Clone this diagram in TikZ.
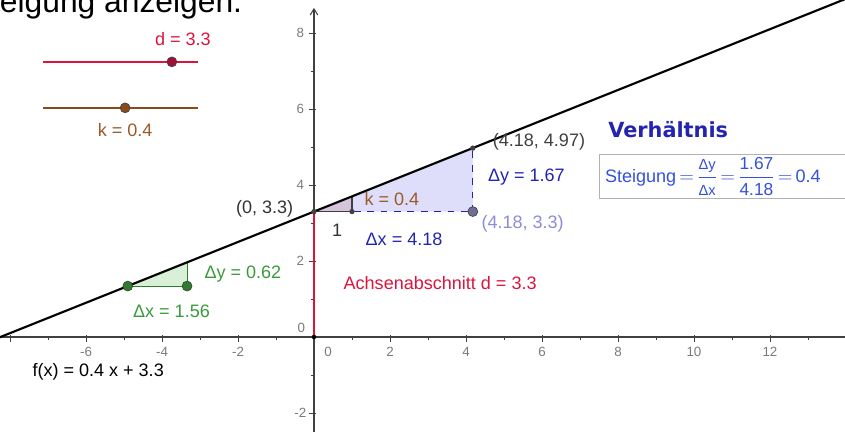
\documentclass[tikz,border=0pt]{standalone}
\usepackage{fontspec}
\setmainfont{Liberation Sans}
\newfontfamily\headfont{DejaVu Sans}
\usepackage{tikz}
\usetikzlibrary{arrows.meta}
\definecolor{GGAxis}{HTML}{404040}
\definecolor{GGTick}{HTML}{7A7A7A}
\definecolor{GGRed}{HTML}{DC143C}
\definecolor{GGRedDark}{HTML}{A0103A}
\definecolor{GGBrown}{HTML}{8B4A1C}
\definecolor{GGBrownText}{HTML}{9A5A2A}
\definecolor{GGGreen}{HTML}{2E7D2E}
\definecolor{GGGreenText}{HTML}{3A9A3A}
\definecolor{GGGreenFill}{HTML}{D8F0D8}
\definecolor{GGBlue}{HTML}{2424B0}
\definecolor{GGBlueBox}{HTML}{3450DC}
\definecolor{GGBlueFill}{HTML}{DEDEFA}
\definecolor{GGLilac}{HTML}{8C8CD8}
\definecolor{GGLilacFill}{HTML}{D6C4DC}
\definecolor{GGPoint}{HTML}{6E6E98}

\begin{document}
\begin{tikzpicture}[x=1cm,y=1cm,
  axisline/.style={draw=GGAxis,line width=0.8pt},
  tickmark/.style={draw=GGAxis,line width=0.6pt},
  ticklbl/.style={font=\fontsize{10}{12}\selectfont,text=GGTick,inner sep=0pt},
  lbl/.style={font=\fontsize{13.5}{16}\selectfont,inner sep=0pt},
  graph/.style={draw=black,line width=1.6pt},
  ggpoint/.style={fill=#1,draw=black!75,line width=0.5pt},
  sidedash/.style={draw=GGBlue,line width=0.9pt,dash pattern=on 5pt off 5pt}
]
  \useasboundingbox (-8.263,-2.5) rectangle (13.974,8.868);
  \clip (-8.263,-2.5) rectangle (13.974,8.868);

  % points of the construction
  \coordinate (O) at (0,0);
  \coordinate (D) at (0,3.3);
  \coordinate (K1) at (1,3.3);
  \coordinate (K2) at (1,3.7);
  \coordinate (B1) at (4.18,3.3);
  \coordinate (B2) at (4.18,4.97);
  \coordinate (G0) at (-4.9,1.34);
  \coordinate (G1) at (-3.34,1.34);
  \coordinate (G2) at (-3.34,1.964);
  \coordinate (Fl) at (-8.6,-0.14);
  \coordinate (Fr) at (14.2,8.98);

  % triangle fills
  \fill[GGBlueFill] (D) -- (B1) -- (B2) -- cycle;
  \fill[GGLilacFill] (D) -- (K1) -- (K2) -- cycle;
  \fill[GGGreenFill] (G0) -- (G1) -- (G2) -- cycle;

  % axes
  \coordinate (xL) at (-8.3,0);
  \coordinate (xR) at (14.0,0);
  \coordinate (yB) at (0,-2.6);
  \coordinate (yT) at (0,8.66);
  \draw[axisline] (xL) -- (xR);
  \draw[axisline,-{Straight Barb[length=1.6mm,width=2mm]}] (yB) -- (yT);
  \foreach \i in {-8,...,13}
    \draw[tickmark] (\i,0) -- (\i,-0.09);
  \foreach \i in {-8,-6,...,12}
    \draw[tickmark] (\i,0.05) -- (\i,-0.12);
  \foreach \j in {-2,...,8}
    \draw[tickmark] (0,\j) -- (-0.09,\j);
  \foreach \j in {-2,0,...,8}
    \draw[tickmark] (0.05,\j) -- (-0.12,\j);
  \foreach \i in {-6,-4,-2,2,4,6,8,10,12}
    \node[ticklbl] (xt\i) at (\i,-0.4) {\i};
  \foreach \j in {-2,2,4,6,8}
    \node[ticklbl] (yt\j) at (-0.36,\j) {\j};
  \node[ticklbl] (xt0) at (0.37,-0.38) {0};
  \node[ticklbl] (yt0) at (-0.33,0.25) {0};

  % intercept, slope triangles and graph
  \draw[GGRed,line width=1.8pt] (O) -- (D);
  \draw[sidedash] (D) -- (B1);
  \draw[sidedash] (B1) -- (B2);
  \draw[GGAxis,line width=0.8pt] (D) -- (K1) -- (K2);
  \draw[GGGreen,line width=0.8pt] (G0) -- (G1) -- (G2);
  \draw[graph] (Fl) -- (Fr);

  \fill[black] (O) circle (0.06);
  \fill[GGAxis] (D) circle (0.07);
  \fill[GGAxis] (K1) circle (0.07);
  \fill[GGAxis] (B2) circle (0.07);
  \filldraw[ggpoint=GGPoint] (B1) circle (0.13);
  \filldraw[ggpoint=GGGreen] (G0) circle (0.13);
  \filldraw[ggpoint=GGGreen] (G1) circle (0.13);

  % sliders
  \coordinate (dL) at (-7.13,7.24);
  \coordinate (dR) at (-3.05,7.24);
  \coordinate (dP) at (-3.74,7.24);
  \coordinate (kL) at (-7.13,6.03);
  \coordinate (kR) at (-3.05,6.03);
  \coordinate (kP) at (-4.97,6.03);
  \draw[GGRed,line width=1.8pt] (dL) -- (dR);
  \draw[GGBrown,line width=1pt] (kL) -- (kR);
  \filldraw[ggpoint=GGRedDark] (dP) circle (0.13);
  \filldraw[ggpoint=GGBrown] (kP) circle (0.13);

  % labels
  \node[anchor=base west,inner sep=0pt,font=\fontsize{23.8}{28}\selectfont] (title) at (-8.27,8.55) {eigung anzeigen.};
  \node[lbl,text=GGRed] (dval) at (-3.45,7.84) {d = 3.3};
  \node[lbl,text=GGBrownText] (kval) at (-4.97,5.45) {k = 0.4};
  \node[lbl,text=black!80] (Dlbl) at (-1.30,3.37) {(0, 3.3)};
  \node[lbl,text=black!80] (onelbl) at (0.61,2.82) {1};
  \node[lbl,text=GGBrownText] (klbl) at (2.05,3.63) {k = 0.4};
  \node[lbl,text=GGBlue] (dxlbl) at (2.37,2.57) {Δx = 4.18};
  \node[lbl,text=GGBlue] (dylbl) at (5.59,4.20) {Δy = 1.67};
  \node[lbl,text=black!75] (B2lbl) at (5.92,5.13) {(4.18, 4.97)};
  \node[lbl,text=GGLilac] (B1lbl) at (5.49,2.99) {(4.18, 3.3)};
  \node[lbl,text=GGGreenText] (gdylbl) at (-1.87,1.66) {Δy = 0.62};
  \node[lbl,text=GGGreenText] (gdxlbl) at (-3.75,0.68) {Δx = 1.56};
  \node[lbl,text=GGRed] (achse) at (3.32,1.42) {Achsenabschnitt d = 3.3};
  \node[lbl,text=black] (flbl) at (-5.68,-0.92) {f(x) = 0.4 x + 3.3};
  \node[inner sep=0pt,text=GGBlue,font=\headfont\bfseries\fontsize{15.6}{18}\selectfont] (ratio) at (9.32,5.45) {Verhältnis};
  \node[draw=black!30,line width=0.6pt,anchor=west,inner xsep=2pt,inner ysep=2pt,
        minimum width=6.6cm,text width=6.3cm,text=GGBlueBox,font=\fontsize{13.5}{16}\selectfont] (slope) at (7.5,4.22)
    {Steigung\,$=$\,$\displaystyle\frac{\mbox{\fontsize{11}{11}\selectfont Δy}}{\mbox{\fontsize{11}{11}\selectfont Δx}}$\,$=$\,$\displaystyle\frac{\mbox{\fontsize{13}{13}\selectfont 1.67}}{\mbox{\fontsize{13}{13}\selectfont 4.18}}$\,$=$\,0.4};
\end{tikzpicture}
\end{document}
